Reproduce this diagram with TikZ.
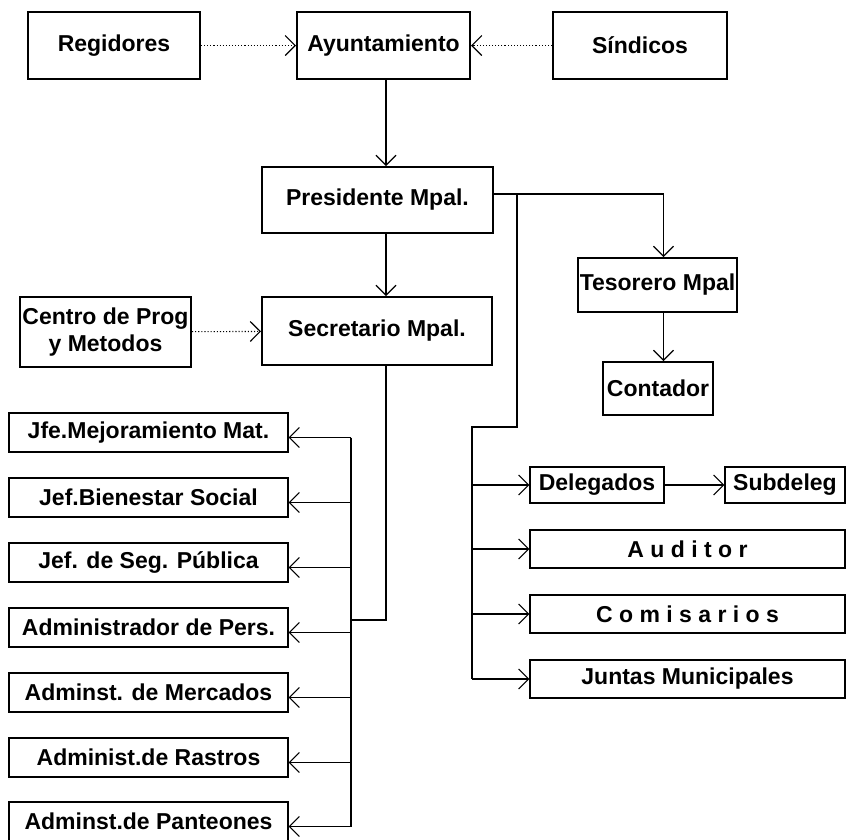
\documentclass[tikz,border=0pt]{standalone}
\usepackage{fontspec}
\setmainfont{Liberation Sans}
\usetikzlibrary{positioning, arrows.meta}
\tikzset{
BoxBase/.style   ={draw, inner sep=0pt, align=center,
                   font=\bfseries\fontsize{23}{27}\selectfont},
BoxStyle/.style  ={every node/.style={BoxBase, line width=2pt}},
ThinBoxStyle/.style ={every node/.style={BoxBase, line width=1.3pt}},
LinkStyle/.style ={line width=1.1pt, -{Straight Barb[length=10pt,width=20pt,line width=1.1pt]}},
BusStyle/.style  ={line width=1.1pt},
DotLinkStyle/.style ={LinkStyle, dotted},
}

\begin{document}
\begin{tikzpicture}[x=1pt, y=-1pt]
\useasboundingbox (0,0) rectangle (847,839);

\begin{scope}[BoxStyle]  % cabeza
\node[minimum width=172, minimum height=67] (reg) at (114,45.5) {Regidores};
\node[minimum width=173, minimum height=67] (ayu) at (383.5,45.5) {Ayuntamiento};
\node[minimum width=174, minimum height=67] (sin) at (640,45.5) {Síndicos};
\node[minimum width=231, minimum height=66] (pre) at (377.5,200) {Presidente Mpal.};
\node[minimum width=230, minimum height=68] (sec) at (377,331) {Secretario Mpal.};
\node[minimum width=171, minimum height=70] (cen) at (105.5,332) {Centro de Prog\\ y Metodos};
\node[minimum width=159, minimum height=54] (tes) at (657.5,285) {Tesorero Mpal};
\node[minimum width=110, minimum height=53] (con) at (658,388.5) {Contador};
\end{scope}

\begin{scope}[ThinBoxStyle, minimum width=279, minimum height=39]  % jefaturas
\node (mej)  at (148.5,432.5) {Jfe.Mejoramiento Mat.};
\node (bie)  at (148.5,497.5) {Jef.Bienestar Social};
\node (seg)  at (148.5,562.5) {Jef. de Seg. Pública};
\node (per)  at (148.5,627.5) {Administrador de Pers.};
\node (mer)  at (148.5,692.5) {Adminst. de Mercados};
\node (ras)  at (148.5,757.5) {Administ.de Rastros};
\node (pan)  at (148.5,821.5) {Adminst.de Panteones};
\end{scope}

\begin{scope}[ThinBoxStyle]  % delegaciones
\node[minimum width=134, minimum height=36] (del) at (597,485) {Delegados};
\node[minimum width=120, minimum height=36] (sub) at (785,485) {Subdeleg};
\node[minimum width=315, minimum height=38] (aud) at (687.5,549) {A u d i t o r};
\node[minimum width=315, minimum height=38] (com) at (687.5,614) {C o m i s a r i o s};
\node[minimum width=315, minimum height=38] (jun) at (687.5,679) {Juntas Municipales};
\end{scope}

\coordinate (axis) at (386,0);
\coordinate (drop) at (517,0);
\coordinate (lbus) at (351,0);
\coordinate (rbus) at (472,0);
\coordinate (secturn) at (386,620);
\coordinate (preturn) at (517,427);
\coordinate (preout) at ([yshift=6pt]pre.east);
\coordinate (tesin) at ([xshift=6pt]tes.north);
\coordinate (tesout) at ([xshift=6pt]tes.south);
\foreach \n in {mej,bie,seg,per,mer,ras,pan}
  \coordinate (\n-in) at ([yshift=-5pt]\n.east);

\begin{scope}[DotLinkStyle]
\draw (reg) -- (ayu);
\draw (sin) -- (ayu);
\draw (cen) -- (sec);
\end{scope}

\begin{scope}[LinkStyle]
\draw (axis |- ayu.south) -- (axis |- pre.north);
\draw (axis |- pre.south) -- (axis |- sec.north);
\draw (preout) -| (tesin);
\draw (tesout) -- (tesout |- con.north);
\draw (del) -- (sub);
\foreach \n in {mej,bie,seg,per,mer,ras,pan}
  \draw (lbus |- \n-in) -- (\n-in);
\foreach \n in {del,aud,com,jun}
  \draw (rbus |- \n.west) -- (\n.west);
\end{scope}

\begin{scope}[BusStyle]
\draw (axis |- sec.south) -- (secturn) -- (lbus |- secturn);
\draw (lbus |- mej-in) -- (lbus |- pan-in);
\draw (drop |- preout) -- (preturn) -- (rbus |- preturn) -- (rbus |- jun.west);
\end{scope}
\end{tikzpicture}
\end{document}
